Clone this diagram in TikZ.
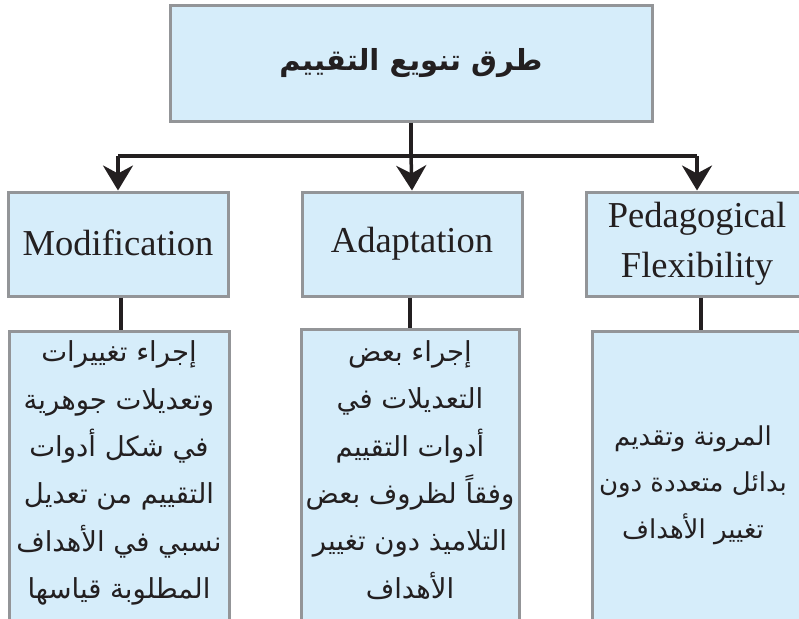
\documentclass[tikz,border=0pt]{standalone}
\usepackage{fontspec}
\setmainfont{Liberation Serif}
\newfontfamily\arabicfont[Script=Arabic]{DejaVu Sans}
\TeXXeTstate=1
\usetikzlibrary{arrows.meta}
\definecolor{boxfill}{HTML}{D6EDFA}
\definecolor{boxline}{HTML}{939598}
\definecolor{ink}{HTML}{231F20}
\tikzset{
  box/.style={draw=boxline, fill=boxfill, line width=3pt, rectangle, inner sep=0pt},
  entxt/.style={font=\fontsize{36.5}{50}\selectfont, text=ink, align=center},
  artxt/.style={font=\fontsize{27.5}{47.3}\arabicfont, text=ink, align=center, inner sep=0pt},
  link/.style={draw=ink, line width=3.5pt},
  arr/.style={link, -{Stealth[length=25pt,width=30pt,inset=8pt]}},
}
\begin{document}
\begin{tikzpicture}[x=1pt,y=-1pt]
\useasboundingbox (0,0) rectangle (799,618);
\clip (0,0) rectangle (799,618);
% top box
\node[box, minimum width=482pt, minimum height=115pt] (top) at (411,63.5)
  {\fontsize{29}{34}\arabicfont\bfseries\color{ink}\beginR طرق تنويع التقييم\endR};
% second row
\node[box, minimum width=220pt, minimum height=104pt, entxt] (mod) at (118,244) {\raisebox{3pt}{Modification}};
\node[box, minimum width=220pt, minimum height=104pt, entxt] (ada) at (412,244) {\raisebox{3pt}{Adaptation}};
\node[box, minimum width=222pt, minimum height=104pt, entxt] (ped) at (697,244) {Pedagogical\\Flexibility};
% third row
\node[box, minimum width=220pt, minimum height=310pt] (modd) at (119,486) {};
\node[box, minimum width=218pt, minimum height=300pt] (adad) at (410,479) {};
\node[box, minimum width=220pt, minimum height=310pt] (pedd) at (702,486) {};
% texts
\node[artxt] (moddtxt) at (119,473) {\beginR إجراء تغييرات\endR\\\beginR وتعديلات جوهرية\endR\\\beginR في شكل أدوات\endR\\\beginR التقييم من تعديل\endR\\\beginR نسبي في الأهداف\endR\\\beginR المطلوبة قياسها\endR};
\node[artxt] (adadtxt) at (410,470) {\beginR إجراء بعض\endR\\\beginR التعديلات في\endR\\\beginR أدوات التقييم\endR\\\beginR وفقاً لظروف بعض\endR\\\beginR التلاميذ دون تغيير\endR\\\beginR الأهداف\endR};
\node[artxt, font=\fontsize{26}{46.5}\arabicfont] (peddtxt) at (693,485) {\beginR المرونة وتقديم\endR\\\beginR بدائل متعددة دون\endR\\\beginR تغيير الأهداف\endR};
% connectors
\coordinate (bar) at (411,156);
\draw[link] (top.south) -- (bar);
\draw[link] (mod.north |- bar) -- (ped.north |- bar);
\draw[arr] (mod.north |- bar) -- (mod.north);
\draw[arr] (bar) -- (ada.north);
\draw[arr] (ped.north |- bar) -- (ped.north);
\draw[link] ([xshift=3pt]mod.south) -- ([xshift=3pt]mod.south |- modd.north);
\draw[link] ([xshift=-2pt]ada.south) -- ([xshift=-2pt]ada.south |- adad.north);
\draw[link] ([xshift=4pt]ped.south) -- ([xshift=4pt]ped.south |- pedd.north);
\end{tikzpicture}
\end{document}
